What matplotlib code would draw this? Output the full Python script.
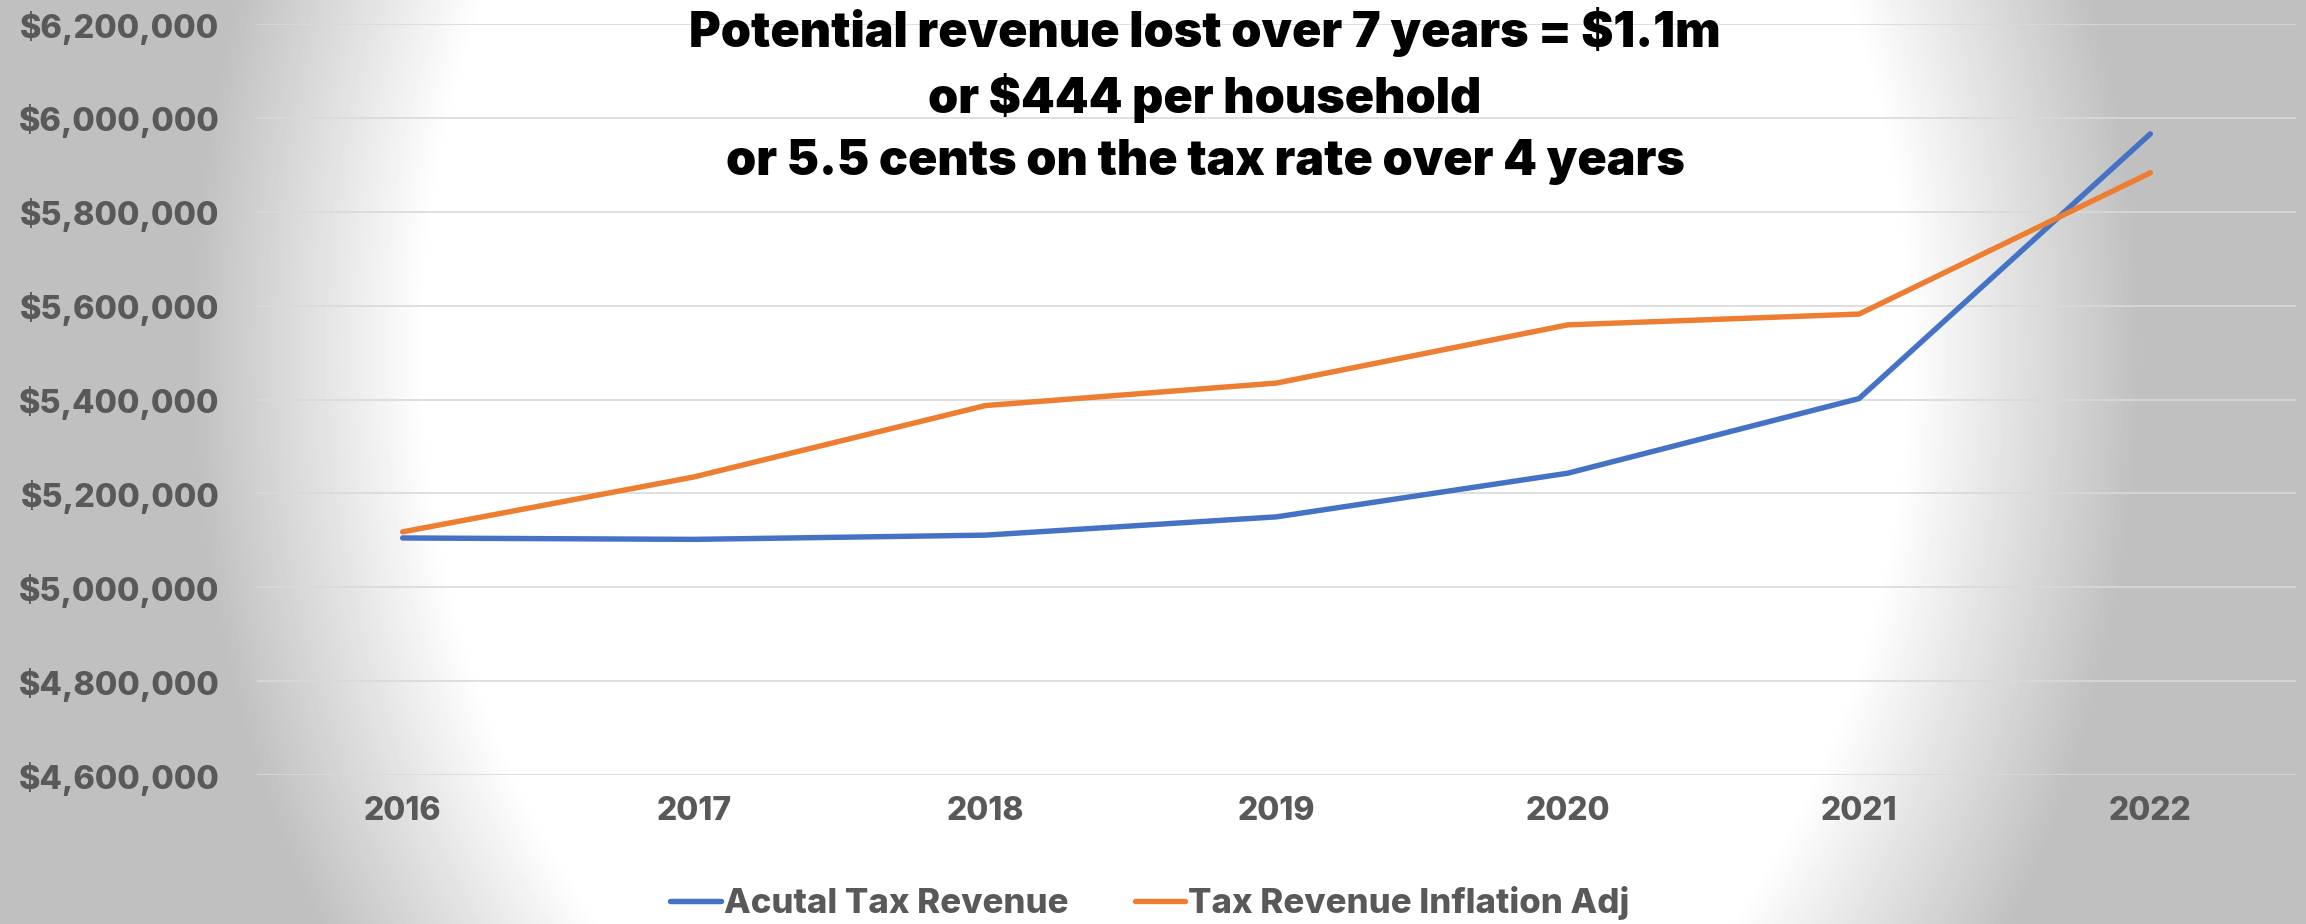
import numpy as np
import matplotlib
matplotlib.use('Agg')
import matplotlib.pyplot as plt
from matplotlib.ticker import FuncFormatter
from matplotlib.lines import Line2D

# data
years = ['2016', '2017', '2018', '2019', '2020', '2021', '2022']
actual = [5105000, 5102000, 5111000, 5150000, 5243000, 5402000, 5966000]
inflation_adj = [5118000, 5235000, 5387000, 5435000, 5559000, 5582000, 5883000]
series_names = ['Acutal Tax Revenue', 'Tax Revenue Inflation Adj']
title_lines = ['Potential revenue lost over 7 years = $1.1m',
               'or $444 per household',
               'or 5.5 cents on the tax rate over 4 years']

plt.rcParams['font.family'] = ['Inter', 'DejaVu Sans']

W, H = 2306, 924
fig = plt.figure(figsize=(W / 100, H / 100), dpi=100)

# radial grey -> white background
bg = fig.add_axes([0, 0, 1, 1])
yy, xx = np.mgrid[0:H, 0:W]
r = np.sqrt(((xx - 1165) / 740.0) ** 2 + ((yy - 350) / 880.0) ** 2)
t = np.clip((r - 1.0) / 0.32, 0, 1)
img = 1.0 - t * (1.0 - 0.75)
bg.imshow(img, cmap='gray', vmin=0, vmax=1, aspect='auto', interpolation='bilinear')
bg.axis('off')

ax = fig.add_axes([257 / W, 1 - 775 / H, (2296 - 257) / W, (775 - 24) / H])
ax.set_facecolor('none')
x = np.arange(len(years))
ax.plot(x, actual, color='#4472C4', lw=3.9, solid_capstyle='round', solid_joinstyle='round', zorder=3)
ax.plot(x, inflation_adj, color='#ED7D31', lw=3.9, solid_capstyle='round', solid_joinstyle='round', zorder=3)

ax.set_xlim(-0.5, len(years) - 0.5)
ax.set_ylim(4600000, 6200000)
ax.set_yticks(np.arange(4600000, 6200001, 200000))
ax.yaxis.set_major_formatter(FuncFormatter(lambda v, p: '${:,.0f}'.format(v)))
ax.set_xticks(x)
ax.set_xticklabels(years)
ax.grid(axis='y', color='#d9d9d9', lw=1.2, zorder=0)
for s in ax.spines.values():
    s.set_visible(False)
ax.tick_params(axis='both', length=0, colors='#595959')
ax.tick_params(axis='y', pad=27, labelsize=23.5)
ax.tick_params(axis='x', pad=15, labelsize=23)
for lab in ax.get_xticklabels() + ax.get_yticklabels():
    lab.set_fontweight('heavy')

# title block
for line, yp in zip(title_lines, [32, 98, 162]):
    fig.text(1205 / W, 1 - yp / H, line, ha='center', va='center',
             fontsize=34.8, fontweight='black', color='black')

handles = [Line2D([], [], color='#4472C4', lw=3.9, solid_capstyle='round'),
           Line2D([], [], color='#ED7D31', lw=3.9, solid_capstyle='round')]
leg = fig.legend(handles, series_names, loc='center', bbox_to_anchor=(1150 / W, 1 - 903 / H),
                 ncol=2, frameon=False, fontsize=25, handlelength=1.45, handletextpad=0.1,
                 columnspacing=1.9)
for txt in leg.get_texts():
    txt.set_color('#595959')
    txt.set_fontweight('heavy')

fig.savefig('out.png', dpi=100)
